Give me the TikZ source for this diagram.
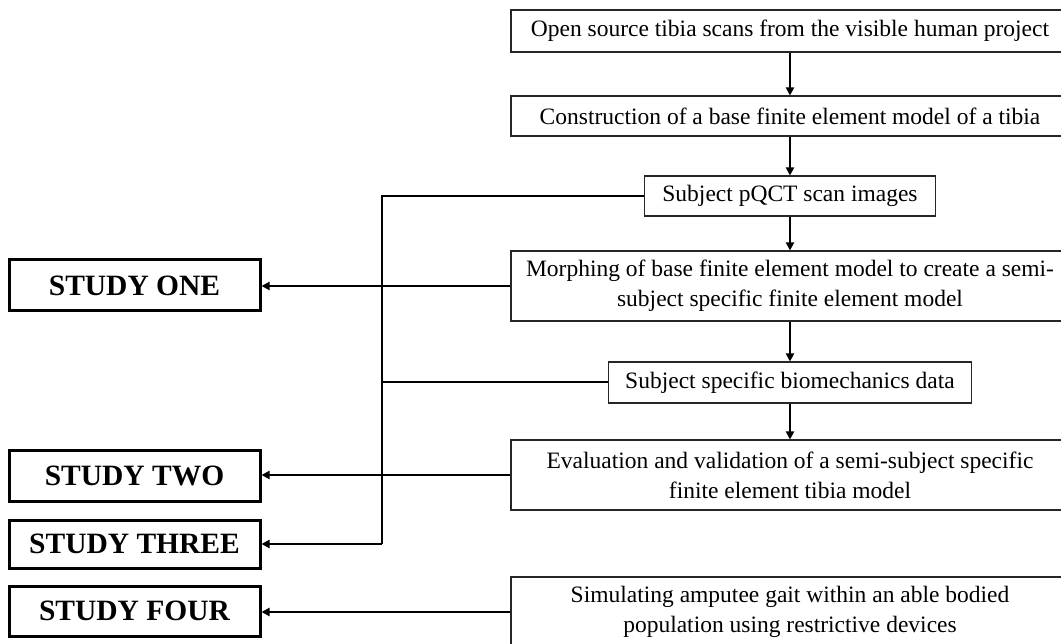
\documentclass[tikz,border=0pt]{standalone}
\usepackage{fontspec}
\setmainfont{Liberation Serif}
\usetikzlibrary{arrows.meta}
\begin{document}
\begin{tikzpicture}[x=1pt,y=-1pt,
  proc/.style={draw=black!85, line width=1.1pt, fill=white, inner sep=0pt, align=center, font=\fontsize{23.5}{30}\selectfont},
  study/.style={draw=black, line width=3pt, fill=white, inner sep=0pt, minimum width=251pt, minimum height=51pt, font=\bfseries\fontsize{29.5}{30}\selectfont},
  conn/.style={line width=2pt},
  arr/.style={conn, -{Triangle[length=8pt,width=8pt]}}]
\useasboundingbox (0,0) rectangle (1061,644);
\clip (0,0) rectangle (1061,644);
% process boxes
\node[proc, minimum width=558pt, minimum height=42pt] (n1) at (790,31) {Open source tibia scans from the visible human project};
\node[proc, minimum width=558pt, minimum height=40pt] (n2) at (790,116) {Construction of a base finite element model of a tibia};
\node[proc, minimum width=291pt, minimum height=40pt] (n3) at (790,196) {Subject pQCT scan images};
\node[proc, minimum width=558pt, minimum height=70pt] (n4) at (790,286) {Morphing of base finite element model to create a semi-\\subject specific finite element model};
\node[proc, minimum width=363pt, minimum height=41pt] (n5) at (790,382.5) {Subject specific biomechanics data};
\node[proc, minimum width=558pt, minimum height=70pt] (n6) at (790,475) {Evaluation and validation of a semi-subject specific\\finite element tibia model};
\node[proc, minimum width=558pt, minimum height=70pt] (n7) at (790,612) {Simulating amputee gait within an able bodied\\population using restrictive devices};
% study boxes
\node[study] (s1) at (134.5,285.5) {STUDY ONE};
\node[study] (s2) at (134.5,475.5) {STUDY TWO};
\node[study, minimum height=48pt] (s3) at (134.5,544) {STUDY THREE};
\node[study, minimum height=50pt] (s4) at (134.5,611) {STUDY FOUR};
% vertical flow
\draw[arr] (n1) -- (n2);
\draw[arr] (n2) -- (n3);
\draw[arr] (n3) -- (n4);
\draw[arr] (n4) -- (n5);
\draw[arr] (n5) -- (n6);
% left bus
\coordinate (vtop) at (382,196);
\coordinate (vbot) at (382,544);
\draw[conn] (n3.west) -- (vtop) -- (vbot);
\draw[conn] (n5.west) -- (n5.west -| vtop);
\draw[arr] (vbot) -- (s3.east);
\draw[arr] (n4.west) -- (s1.east |- n4.west);
\draw[arr] (n6.west) -- (s2.east |- n6.west);
\draw[arr] (n7.west) -- (s4.east |- n7.west);
\end{tikzpicture}
\end{document}
